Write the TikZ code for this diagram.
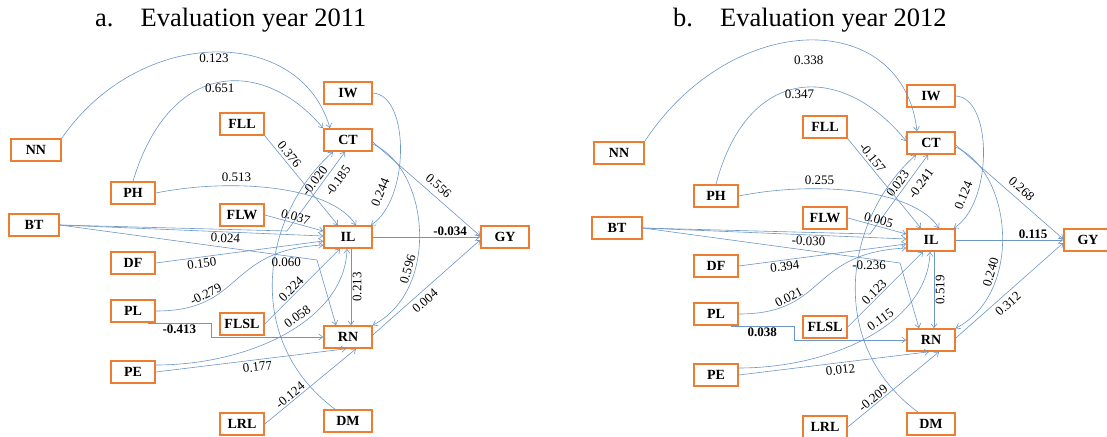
\documentclass[tikz,border=0pt]{standalone}
\usepackage{fontspec}
\setmainfont{Liberation Serif}
\usetikzlibrary{arrows.meta}

\definecolor{boxorange}{RGB}{237,125,49}
\definecolor{pathblue}{RGB}{108,150,200}

\tikzset{
  varbox/.style={draw=boxorange, line width=1.6pt, minimum width=44pt, minimum height=22pt,
    inner sep=0pt, font=\bfseries\fontsize{14}{15}\selectfont},
  widebox/.style={varbox, minimum width=48pt},
  effect/.style={draw=pathblue, line width=0.6pt, -{Straight Barb[length=4pt,width=6pt]}},
  coef/.style={font=\fontsize{13}{14}\selectfont, inner sep=1.5pt},
  heading/.style={anchor=base west, inner sep=0pt, font=\fontsize{26.5}{30}\selectfont}
}

% the boxes of one panel (names get the scope's prefix)
\newcommand{\panelnodes}{
  \node[widebox, minimum width=50pt] (NN) at (36,150) {NN};
  \node[widebox, minimum width=50pt] (BT) at (34,225) {BT};
  \node[varbox] (PH) at (133,193) {PH};
  \node[varbox] (DF) at (133,263) {DF};
  \node[varbox] (PL) at (133,311) {PL};
  \node[varbox] (PE) at (133,372) {PE};
  \node[varbox] (FLL) at (242,124) {FLL};
  \node[varbox] (FLW) at (242,215) {FLW};
  \node[varbox] (FLSL) at (242,324) {FLSL};
  \node[varbox] (LRL) at (242,424) {LRL};
  \node[widebox] (IW) at (348,93) {IW};
  \node[widebox] (CT) at (348,140) {CT};
  \node[widebox] (IL) at (348,237) {IL};
  \node[widebox] (RN) at (348,337) {RN};
  \node[widebox] (DM) at (348,421) {DM};
  \node[widebox] (GY) at (505,237) {GY};
}

\begin{document}
\begin{tikzpicture}[x=1pt, y=-1pt]
        \useasboundingbox (0,0) rectangle (1107,436);

        \node[heading] (titleA) at (95,27) {a.\hspace{27pt}Evaluation year 2011};
        \node[heading] (titleB) at (673,27) {b.\hspace{27pt}Evaluation year 2012};

        %%% a. 2011
        \begin{scope}[name prefix=a-]
          \panelnodes
          % into CT
          \draw[effect] (NN.north east) .. controls (140,25) and (300,25) .. ([xshift=-18pt]CT.north)
            node[coef, pos=0.5, below] {0.123};
          \draw[effect] (PH.north) .. controls (170,58) and (264,58) .. (CT.north west)
            node[coef, pos=0.5, below] {0.651};
          \draw[effect] (BT.east) -- (287,231) -- ([xshift=-3pt]CT.south)
            node[coef, pos=0.72, sloped, below=5pt] {-0.185};
          \draw[effect] ([xshift=-13pt]DM.north) .. controls (242,340) and (262,215) .. ([xshift=-15pt]CT.south)
            node[coef, pos=0.88, sloped, below] {-0.020};
          % into IL
          \draw[effect] (FLL.south east) -- ([xshift=-10pt]IL.north)
            node[coef, pos=0.26, sloped, above=1pt] {0.376};
          \draw[effect] (PH.east) .. controls (230,178) and (330,185) .. ([xshift=8pt]IL.north)
            node[coef, pos=0.34, above=2pt] {0.513};
          \draw[effect] (FLW.east) -- ([yshift=6pt]IL.west)
            node[coef, pos=0.5, sloped, above] {0.037};
          \draw[effect] (BT.east) -- ([yshift=1pt]IL.west)
            node[coef, pos=0.63, sloped, below] {0.024};
          \draw[effect] (DF.east) -- ([yshift=-4pt]IL.west)
            node[coef, pos=0.27, sloped, below] {0.150};
          \draw[effect] (PL.east) .. controls (245,311) and (225,250) .. ([yshift=-8pt]IL.west)
            node[coef, pos=0.27, sloped, above] {-0.279};
          \draw[effect] (FLSL.east) -- ([xshift=-8pt]IL.south)
            node[coef, pos=0.41, sloped, above] {0.224};
          \draw[effect] ([yshift=7pt]PE.east) .. controls (250,365) and (345,320) .. ([xshift=-1pt]IL.south)
            node[coef, pos=0.58, sloped, above=2pt] {0.058};
          \draw[effect] (IW.east) .. controls (410,95) and (410,200) .. ([xshift=-2pt]IL.north east)
            node[coef, pos=0.77, sloped, above=6pt] {0.244};
          % into RN
          \draw[effect] (BT.east) -- node[coef, pos=0.88, below] {0.060} (317,260) -- ([xshift=-12pt]RN.north);
          \draw[effect] ([xshift=-8pt]PL.south east) -- node[coef, below] {\bfseries -0.413} ++(63,0) |- (RN.west);
          \draw[effect] (PE.east) -- ([xshift=-2pt]RN.south)
            node[coef, pos=0.53, sloped, below=1pt] {0.177};
          \draw[effect] (LRL.east) -- ([xshift=8pt]RN.south)
            node[coef, pos=0.32, sloped, above] {-0.124};
          \draw[effect] ([xshift=3pt]IL.south) -- ([xshift=3pt]RN.north)
            node[coef, midway, rotate=90, anchor=north] {0.213};
          \draw[effect] ([yshift=-4pt]CT.east) .. controls (430,170) and (440,290) .. (RN.north east)
            node[coef, pos=0.68, sloped, above=1pt] {0.596};
          % into GY
          \draw[effect] ([yshift=-2pt]CT.east) -- ([yshift=1pt]GY.west)
            node[coef, pos=0.55, sloped, above=4pt] {0.556};
          \draw[effect] (IL.east) -- (GY.west)
            node[coef, pos=0.72, above] {\bfseries -0.034};
          \draw[effect] ([yshift=2pt]RN.east) -- ([yshift=-3pt]GY.west)
            node[coef, pos=0.43, sloped, below=3pt] {0.004};
        \end{scope}

        %%% b. 2012
        \begin{scope}[shift={(583,3)}, name prefix=b-]
          \panelnodes
          % into CT
          \draw[effect] (NN.north east) .. controls (150,5) and (320,5) .. ([xshift=-14pt]CT.north)
            node[coef, pos=0.5, below=14pt] {0.338};
          \draw[effect] (PH.north) .. controls (165,60) and (260,60) .. ([yshift=2pt]CT.west)
            node[coef, pos=0.5, below] {0.347};
          \draw[effect] (BT.east) -- (287,231) -- ([xshift=-3pt]CT.south)
            node[coef, pos=0.72, sloped, below=5pt] {-0.241};
          \draw[effect] ([xshift=-13pt]DM.north) .. controls (242,340) and (262,215) .. ([xshift=-15pt]CT.south)
            node[coef, pos=0.88, sloped, below] {0.023};
          % into IL
          \draw[effect] (FLL.south east) -- ([xshift=-10pt]IL.north)
            node[coef, pos=0.26, sloped, above=1pt] {-0.157};
          \draw[effect] (PH.east) .. controls (230,178) and (330,185) .. ([xshift=8pt]IL.north)
            node[coef, pos=0.34, above=2pt] {0.255};
          \draw[effect] (FLW.east) -- ([yshift=6pt]IL.west)
            node[coef, pos=0.5, sloped, above] {0.005};
          \draw[effect] (BT.east) -- ([yshift=1pt]IL.west)
            node[coef, pos=0.63, sloped, below] {-0.030};
          \draw[effect] (DF.east) -- ([yshift=-4pt]IL.west)
            node[coef, pos=0.27, sloped, below] {0.394};
          \draw[effect] (PL.east) .. controls (245,311) and (225,250) .. ([yshift=-8pt]IL.west)
            node[coef, pos=0.27, sloped, above] {0.021};
          \draw[effect] (FLSL.east) -- ([xshift=-8pt]IL.south)
            node[coef, pos=0.41, sloped, above] {0.123};
          \draw[effect] ([yshift=7pt]PE.east) .. controls (250,365) and (345,320) .. ([xshift=-1pt]IL.south)
            node[coef, pos=0.58, sloped, above=2pt] {0.115};
          \draw[effect] (IW.east) .. controls (410,95) and (410,200) .. ([xshift=-2pt]IL.north east)
            node[coef, pos=0.77, sloped, above=6pt] {0.124};
          % into RN
          \draw[effect] (BT.east) -- node[coef, pos=0.88, below] {-0.236} (317,260) -- ([xshift=-12pt]RN.north);
          \draw[effect] ([xshift=-8pt]PL.south east) -- node[coef, below] {\bfseries 0.038} ++(63,0) |- (RN.west);
          \draw[effect] (PE.east) -- ([xshift=-2pt]RN.south)
            node[coef, pos=0.53, sloped, below=1pt] {0.012};
          \draw[effect] (LRL.east) -- ([xshift=8pt]RN.south)
            node[coef, pos=0.32, sloped, above] {-0.209};
          \draw[effect] ([xshift=3pt]IL.south) -- ([xshift=3pt]RN.north)
            node[coef, midway, rotate=90, anchor=north] {0.519};
          \draw[effect] ([yshift=-4pt]CT.east) .. controls (430,170) and (440,290) .. (RN.north east)
            node[coef, pos=0.68, sloped, above=1pt] {0.240};
          % into GY
          \draw[effect] ([yshift=-2pt]CT.east) -- ([yshift=1pt]GY.west)
            node[coef, pos=0.55, sloped, above=4pt] {0.268};
          \draw[effect] (IL.east) -- (GY.west)
            node[coef, pos=0.72, above] {\bfseries 0.115};
          \draw[effect] ([yshift=2pt]RN.east) -- ([yshift=-3pt]GY.west)
            node[coef, pos=0.43, sloped, below=3pt] {0.312};
        \end{scope}
\end{tikzpicture}
\end{document}
